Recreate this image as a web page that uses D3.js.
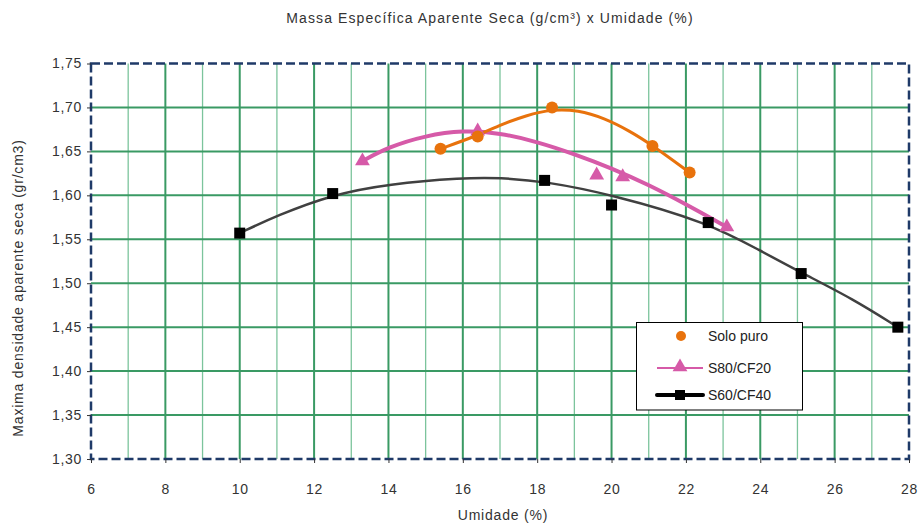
<!DOCTYPE html>
<html><head><meta charset="utf-8">
<script src="https://cdn.jsdelivr.net/npm/d3@7"></script>
<style>body{margin:0;background:#fff;} text{font-family:"Liberation Sans",Arial,sans-serif;}</style>
</head><body>
<svg id="c" width="921" height="523"></svg>
<script>
const chartTitle = "Massa Específica Aparente Seca (g/cm³) x Umidade (%)";
const xTitle = "Umidade (%)";
const yTitle = "Maxima densidade aparente seca (gr/cm3)";
const xTicks = [6,8,10,12,14,16,18,20,22,24,26,28];
const yTicks = [1.30,1.35,1.40,1.45,1.50,1.55,1.60,1.65,1.70,1.75];
const seriesNames = ["Solo puro","S80/CF20","S60/CF40"];
// measured points
const soloX = [15.4,16.4,18.4,21.1,22.1];
const soloY = [1.653,1.667,1.700,1.656,1.626];
const s80X = [13.3,16.4,19.6,20.3,23.1];
const s80Y = [1.639,1.673,1.623,1.621,1.564];
const s60X = [10.0,12.5,18.2,20.0,22.6,25.1,27.7];
const s60Y = [1.557,1.602,1.617,1.589,1.569,1.511,1.450];
// fitted curves
const soloCurveX = [15.4,16.4,17.0,17.7,18.4,19.1,19.8,20.5,21.1,22.1];
const soloCurveY = [1.653,1.668,1.680,1.691,1.698,1.697,1.688,1.673,1.657,1.626];
const s80CurveX = [13.3,14.0,15.0,16.0,17.0,18.0,19.0,20.0,21.0,22.0,23.1];
const s80CurveY = [1.639,1.655,1.668,1.674,1.671,1.661,1.647,1.631,1.612,1.590,1.564];
const s60CurveX = [10.0,11.0,12.5,14.0,16.0,17.0,18.2,20.0,22.6,24.0,25.1,26.5,27.7];
const s60CurveY = [1.557,1.577,1.601,1.613,1.620,1.620,1.616,1.601,1.569,1.537,1.512,1.482,1.450];

const svg = d3.select("#c");
const L=91,R=909,T=63.5,B=459;
const x = d3.scaleLinear().domain([6,28]).range([L,R]);
const y = d3.scaleLinear().domain([1.30,1.75]).range([B,T]);

// grid
const minorX = d3.range(7,28,2);
svg.append("g").selectAll("line").data(minorX).join("line")
  .attr("x1",d=>x(d)).attr("x2",d=>x(d)).attr("y1",T).attr("y2",B)
  .attr("stroke","#7cc49c").attr("stroke-width",1.3);
svg.append("g").selectAll("line").data(xTicks.slice(1,-1)).join("line")
  .attr("x1",d=>x(d)).attr("x2",d=>x(d)).attr("y1",T).attr("y2",B)
  .attr("stroke","#3a9a64").attr("stroke-width",2);
svg.append("g").selectAll("line").data(yTicks.slice(1,-1)).join("line")
  .attr("x1",L).attr("x2",R).attr("y1",d=>y(d)).attr("y2",d=>y(d))
  .attr("stroke","#3a9a64").attr("stroke-width",2);

// border dashed
svg.append("rect").attr("x",L).attr("y",T).attr("width",R-L).attr("height",B-T)
  .attr("fill","none").attr("stroke","#1f3a68").attr("stroke-width",2.5)
  .attr("stroke-dasharray","9,4");

// axes
const fmt = d => d3.format(".2f")(d).replace(".",",");
const xa = svg.append("g").attr("transform",`translate(0,${B})`)
  .call(d3.axisBottom(x).tickValues(xTicks).tickSize(4).tickPadding(21).tickFormat(d3.format("d")));
const ya = svg.append("g").attr("transform",`translate(${L},0)`)
  .call(d3.axisLeft(y).tickValues(yTicks).tickSize(4).tickPadding(5).tickFormat(fmt));
[xa,ya].forEach(a=>{
  a.select(".domain").remove();
  a.selectAll(".tick line").attr("stroke","#333");
  a.selectAll("text").attr("font-size",14).attr("fill","#333")
    .attr("font-family","Liberation Sans, Arial").attr("letter-spacing",0.7);
});

const line = d3.line().x(d=>x(d[0])).y(d=>y(d[1])).curve(d3.curveBasis);
function curve(xs,ys,color,w){
  svg.append("path").datum(xs.map((v,i)=>[v,ys[i]])).attr("d",line).attr("fill","none")
    .attr("stroke",color).attr("stroke-width",w).attr("stroke-linecap","round");
}
const orange="#e8720c", pink="#d65aa8", black="#000";
curve(s60CurveX,s60CurveY,"#404040",2.5);
curve(s80CurveX,s80CurveY,pink,4);
curve(soloCurveX,soloCurveY,orange,3);

// markers
svg.append("g").selectAll("rect").data(s60X.map((v,i)=>[v,s60Y[i]])).join("rect")
  .attr("x",d=>x(d[0])-5.5).attr("y",d=>y(d[1])-5.5).attr("width",11).attr("height",11).attr("fill",black);
const tri = d3.symbol().type(d3.symbolTriangle).size(95);
svg.append("g").selectAll("path").data(s80X.map((v,i)=>[v,s80Y[i]])).join("path")
  .attr("d",tri).attr("transform",d=>`translate(${x(d[0])},${y(d[1])})`).attr("fill",pink);
svg.append("g").selectAll("circle").data(soloX.map((v,i)=>[v,soloY[i]])).join("circle")
  .attr("cx",d=>x(d[0])).attr("cy",d=>y(d[1])).attr("r",6).attr("fill",orange);

// titles
svg.append("text").attr("x",490).attr("y",23).attr("text-anchor","middle").attr("font-size",14)
  .attr("letter-spacing",1.1).attr("fill","#333").text(chartTitle);
svg.append("text").attr("x",503).attr("y",520).attr("text-anchor","middle").attr("font-size",14)
  .attr("letter-spacing",0.8).attr("fill","#333").text(xTitle);
svg.append("text").attr("transform","translate(23,288) rotate(-90)").attr("text-anchor","middle").attr("font-size",14)
  .attr("letter-spacing",0.8).attr("fill","#333").text(yTitle);

// legend
const lg = svg.append("g");
lg.append("rect").attr("x",636.5).attr("y",322.5).attr("width",166).attr("height",87.5).attr("fill","#fff").attr("stroke","#000").attr("stroke-width",1);
const ly=[336,368,395];
lg.append("circle").attr("cx",681).attr("cy",ly[0]).attr("r",5).attr("fill",orange);
lg.append("line").attr("x1",657).attr("x2",703).attr("y1",ly[1]).attr("y2",ly[1]).attr("stroke",pink).attr("stroke-width",2);
lg.append("path").attr("d",tri).attr("transform",`translate(680,${ly[1]-1})`).attr("fill",pink);
lg.append("line").attr("x1",657).attr("x2",703).attr("y1",ly[2]).attr("y2",ly[2]).attr("stroke",black).attr("stroke-width",4).attr("stroke-linecap","round");
lg.append("rect").attr("x",675).attr("y",ly[2]-5).attr("width",10).attr("height",10).attr("fill",black);
seriesNames.forEach((n,i)=>lg.append("text").attr("x",708).attr("y",ly[i]+5).attr("font-size",14).attr("fill","#222").text(n));
</script>
</body></html>
